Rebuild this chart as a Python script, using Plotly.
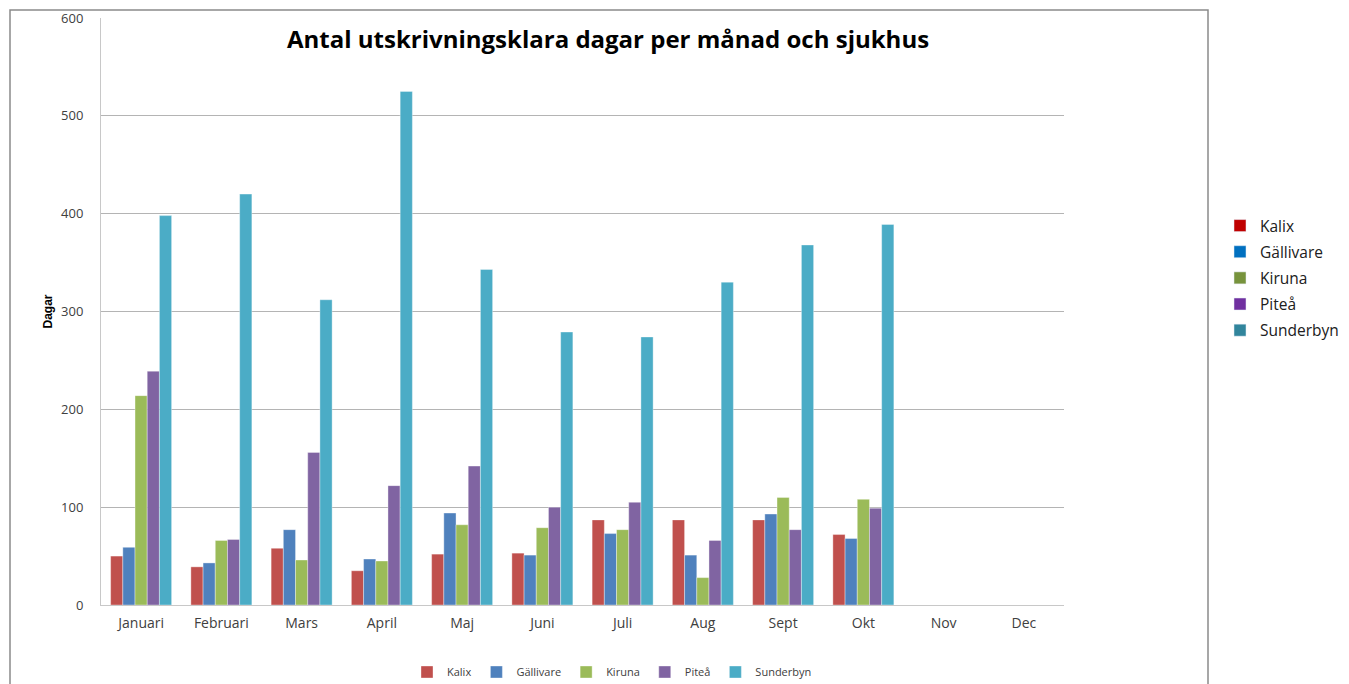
import plotly.graph_objects as go

months = ["Januari", "Februari", "Mars", "April", "Maj", "Juni", "Juli", "Aug", "Sept", "Okt", "Nov", "Dec"]
kalix = [50, 39, 58, 35, 52, 53, 87, 87, 87, 72, None, None]
gallivare = [59, 43, 77, 47, 94, 51, 73, 51, 93, 68, None, None]
kiruna = [214, 66, 46, 45, 82, 79, 77, 28, 110, 108, None, None]
pitea = [239, 67, 156, 122, 142, 100, 105, 66, 77, 99, None, None]
sunderbyn = [398, 420, 312, 525, 343, 279, 274, 330, 368, 389, None, None]

names = ["Kalix", "Gällivare", "Kiruna", "Piteå", "Sunderbyn"]
series = [kalix, gallivare, kiruna, pitea, sunderbyn]
bar_colors = ["#C0504D", "#4F81BD", "#9BBB59", "#8064A2", "#4BACC6"]
side_colors = ["#C00000", "#0070C0", "#77933C", "#7030A0", "#31859C"]
y_ticks = [0, 100, 200, 300, 400, 500, 600]

fig = go.Figure()
for n, s, c in zip(names, series, bar_colors):
    fig.add_trace(go.Bar(x=months, y=s, name=n,
                         marker=dict(color=c, line=dict(color="rgba(255,255,255,0.6)", width=0.6)),
                         legend="legend"))
# second (side) legend, drawn on a hidden overlay axis so it takes no bar slot
for n, c in zip(names, side_colors):
    fig.add_trace(go.Bar(x=[months[0]], y=[None], name=n, marker=dict(color=c),
                         legend="legend2", legendgroup="s_" + n, showlegend=True,
                         xaxis="x2", yaxis="y2"))

# page body has an 8px margin: work in page pixels and shift
OFF = 8
FW, FH = 1349 - OFF, 684 - OFF
L, R, T, B = 101 - OFF, 1064 - OFF, 18 - OFF, 605 - OFF
W, H = R - L, B - T
def px(x): return (x - OFF - L) / W
def py(y): return (B - (y - OFF)) / H

fig.update_layout(
    width=FW, height=FH,
    margin=dict(l=L, r=FW - R, t=T, b=FH - B, autoexpand=False),
    paper_bgcolor="white", plot_bgcolor="white",
    barmode="group", bargap=0.24, bargroupgap=0,
    font=dict(family="Open Sans", color="#404040"),
    xaxis=dict(showline=True, linecolor="#c8c8c8", linewidth=1, ticks="", ticklabelstandoff=5,
               tickfont=dict(size=14, color="#404040"), showgrid=False, fixedrange=True),
    yaxis=dict(range=[0, 600], tickvals=y_ticks, showline=True, linecolor="#c8c8c8", linewidth=1,
               gridcolor="#b4b4b4", gridwidth=1, ticks="", ticklabelstandoff=14,
               tickfont=dict(size=13, color="#404040"), zeroline=False,
               title=dict(text="<b>Dagar</b>",
                          font=dict(family="Liberation Sans Narrow, Liberation Sans", size=12, color="#000000"),
                          standoff=5)),
    xaxis2=dict(overlaying="x", visible=False, categoryarray=months, categoryorder="array", fixedrange=True),
    yaxis2=dict(overlaying="y", visible=False, range=[0, 600], fixedrange=True),
    legend=dict(orientation="h", x=px(612), xanchor="center", y=py(672), yanchor="middle",
                font=dict(size=11, color="#404040"), bgcolor="rgba(0,0,0,0)"),
    legend2=dict(orientation="v", x=px(1220), xanchor="left", y=py(209), yanchor="top",
                 font=dict(size=15.5, color="#202020"), bgcolor="rgba(0,0,0,0)", tracegroupgap=3),
    showlegend=True,
)

fig.add_annotation(text="<b>Antal utskrivningsklara dagar per månad och sjukhus</b>", xref="paper", yref="paper",
                   x=px(608), y=py(38), xanchor="center", yanchor="middle", showarrow=False,
                   font=dict(family="Open Sans", size=24, color="#000000"))

# outer chart border (partially visible)
fig.add_shape(type="rect", xref="paper", yref="paper", x0=px(10), x1=px(1208), y0=py(700), y1=py(10),
              line=dict(color="#8a8a8a", width=1.5), fillcolor="rgba(0,0,0,0)", layer="below")

fig.write_html("out.html")
